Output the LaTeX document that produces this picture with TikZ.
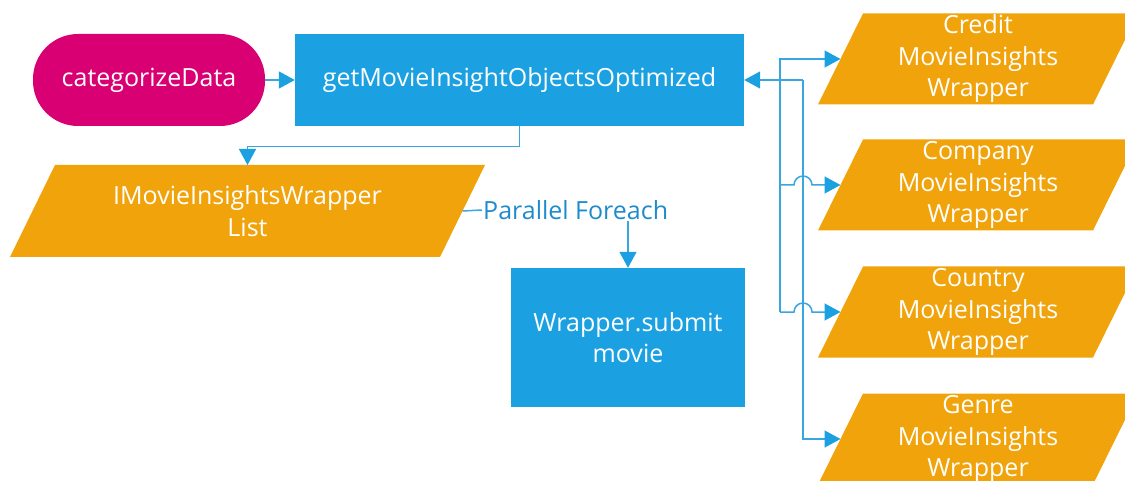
\documentclass[tikz,border=0pt]{standalone}
\usepackage{fontspec}
\setmainfont{Open Sans}
\usetikzlibrary{arrows.meta}
\definecolor{mblue}{HTML}{1BA1E2}
\definecolor{morange}{HTML}{F0A30A}
\definecolor{mmag}{HTML}{D80073}
\definecolor{mline}{HTML}{3AA6E0}
\definecolor{mlabel}{HTML}{1E8BCD}
\begin{document}
\begin{tikzpicture}[x=1pt,y=-1pt,
  txt/.style={text=white,font=\fontsize{25}{31.5}\selectfont,align=center,inner sep=0pt},
  boxb/.style={txt,fill=mblue},
  stadium/.style={txt,fill=mmag,rounded corners=45pt},
  conn/.style={draw=mline,line width=1.5pt},
  arr/.style={conn,-{Triangle[length=16pt,width=17pt,color=mblue]}},
  lbl/.style={text=mlabel,font=\fontsize{25}{30}\selectfont,inner sep=1pt}]
\useasboundingbox (0,0) rectangle (1125,481);
% process nodes
\node[stadium,minimum width=232pt,minimum height=92pt] (cat) at (149,80) {categorizeData};
\node[boxb,minimum width=449pt,minimum height=92pt] (main) at (519.5,80) {getMovieInsightObjectsOptimized};
\node[boxb,minimum width=234pt,minimum height=139pt] (sub) at (628,337.5) {Wrapper.submit\\movie};
% data (parallelogram) nodes
\fill[morange,shift={(247.5,211)}] (-237.5,46) -- (-192.5,-46) -- (237.5,-46) -- (192.5,46) -- cycle;
\node[txt] (list) at (247.5,211) {IMovieInsightsWrapper\\List};
\foreach \n/\cy/\t in {credit/59/Credit,company/185/Company,country/312/Country,genre/439/Genre}{
  \fill[morange,shift={(978,\cy)}] (-160,45.5) -- (-115,-45.5) -- (160,-45.5) -- (115,45.5) -- cycle;
  \node[txt] (\n) at (978,\cy) {\t\\MovieInsights\\Wrapper};
  \coordinate (\n-in) at (840.5,\cy);
}
\coordinate (list-top) at (247.5,165);
\coordinate (list-right) at (462.5,211);
% label
\node[lbl,anchor=west] (pf) at (482,210) {Parallel Foreach};
% bus coordinates
\coordinate (bl1) at (780,59);
\coordinate (bl2) at (780,185);
\coordinate (bl3) at (780,312);
\coordinate (br1) at (803,80);
\coordinate (br4) at (803,439);
% connectors
\draw[arr] (cat.east) -- (main.west);
\draw[arr] (main.south) -- ++(0,20.5) -| (list-top);
\draw[conn] (list-right) -- (pf.west);
\draw[arr] (pf.south -| sub.north) -- (sub.north);
\draw[arr] (bl3) -- (bl1) -- (credit-in);
\draw[arr] (bl2) -- ++(14,0) arc[start angle=180,end angle=0,radius=9pt] -- (company-in);
\draw[arr] (bl3) -- ++(14,0) arc[start angle=180,end angle=0,radius=9pt] -- (country-in);
\draw[arr] (br1) -- (main.east);
\draw[arr] (br1) -- (br4) -- (genre-in);
\end{tikzpicture}
\end{document}
